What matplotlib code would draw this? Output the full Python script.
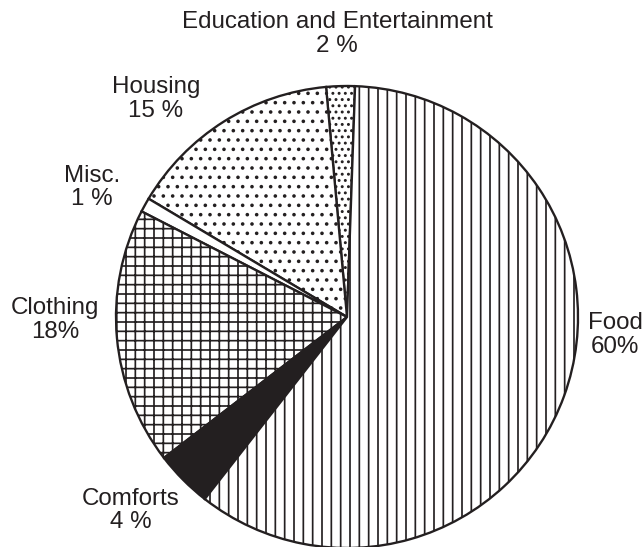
import matplotlib
matplotlib.use('Agg')
import matplotlib.pyplot as plt

plt.rcParams['font.family'] = ['Liberation Sans', 'DejaVu Sans']
plt.rcParams['hatch.linewidth'] = 1.1

# slices, counter-clockwise from the top
categories = ['Education and Entertainment', 'Housing', 'Misc.', 'Clothing', 'Comforts', 'Food']
shares = [2, 15, 1, 18, 4, 60]
pct_labels = ['2 %', '15 %', '1 %', '18%', '4 %', '60%']

hatches = ['...', '..', '', '++', '', '||']
fills = ['white', 'white', 'white', 'white', '#231f20', 'white']

# label centres, in units of the pie radius
label_pos = [(-0.043, 1.225), (-0.827, 0.945), (-1.104, 0.56),
             (-1.264, -0.012), (-0.935, -0.838), (1.16, -0.077)]

dpi = 112
W, H = 642, 547
cx, cy, R = 347, 317, 231  # pixels

fig = plt.figure(figsize=(W / dpi, H / dpi), dpi=dpi)
ax = fig.add_axes([0, 0, 1, 1])

wedges, _ = ax.pie(shares, startangle=88, counterclock=True,
                   colors=fills, hatch=hatches,
                   wedgeprops=dict(edgecolor='#231f20', linewidth=1.5))

for name, pct, (x, y) in zip(categories, pct_labels, label_pos):
    ax.text(x, y, name + '\n' + pct, ha='center', va='center',
            fontsize=15.5, color='#231f20', linespacing=1.1)

ax.set_aspect('auto')
ax.set_xlim(-cx / R, (W - cx) / R)
ax.set_ylim(-(H - cy) / R, cy / R)
ax.axis('off')

fig.savefig('out.png', dpi=dpi)
